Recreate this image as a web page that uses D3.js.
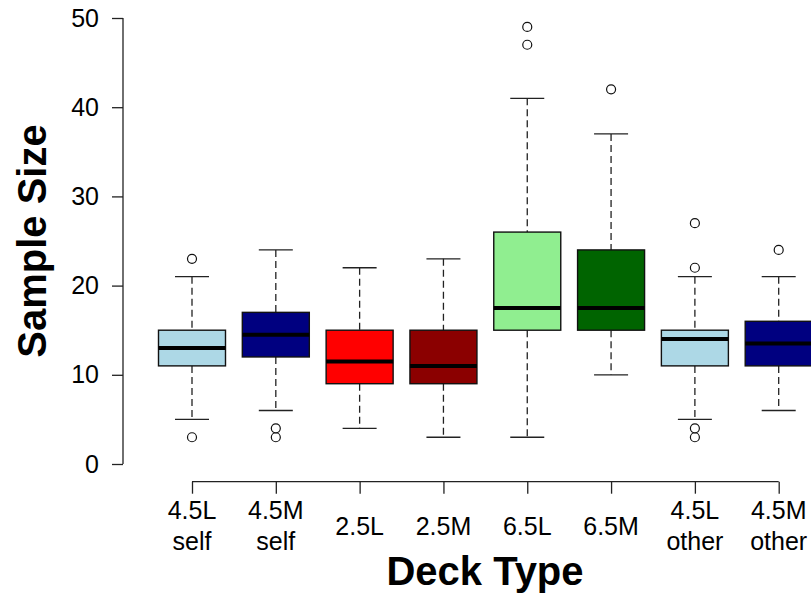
<!DOCTYPE html>
<html>
<head>
<meta charset="utf-8">
<script src="https://d3js.org/d3.v7.min.js"></script>
<style>
    body { margin: 0; background: #fff; }
    text { font-family: "Liberation Sans", Arial, Helvetica, sans-serif; }
</style>
</head>
<body>
<div id="chart-area"></div>
<script>
/*
*    boxplot of sample size by deck type
*/
var deckTypes = ["4.5L self", "4.5M self", "2.5L", "2.5M", "6.5L", "6.5M", "4.5L other", "4.5M other"];
var boxColors = ["#ADD8E6", "#000080", "#FF0000", "#8B0000", "#90EE90", "#006400", "#ADD8E6", "#000080"];
var lowerWhisker = [5, 6, 4, 3, 3, 10, 5, 6];
var lowerQuartile = [11, 12, 9, 9, 15, 15, 11, 11];
var medians = [13, 14.5, 11.5, 11, 17.5, 17.5, 14, 13.5];
var upperQuartile = [15, 17, 15, 15, 26, 24, 15, 16];
var upperWhisker = [21, 24, 22, 23, 41, 37, 21, 21];
var outliers = [[3, 23], [3, 4], [], [], [47, 49], [42], [3, 4, 22, 27], [24]];
var yTicks = [0, 10, 20, 30, 40, 50];

var width = 811, height = 594;

var svg = d3.select("#chart-area")
    .append("svg")
        .attr("width", width)
        .attr("height", height);

// Scales
var x = d3.scalePoint()
    .domain(deckTypes)
    .range([192, 778.7]);
var y = d3.scaleLinear()
    .domain([0, 50])
    .range([464, 18]);

var boxHalf = 33.5, capHalf = 17;

// Y Axis
var yAxisCall = d3.axisLeft(y)
    .tickValues(yTicks)
    .tickSize(11)
    .tickPadding(13);
var yAxis = svg.append("g")
    .attr("transform", "translate(123,0)")
    .call(yAxisCall);
yAxis.select(".domain").attr("d", "M0," + y(0) + "V" + y(50));
yAxis.selectAll("line, path").attr("stroke", "#222").attr("stroke-width", 1.3);
yAxis.selectAll("text")
    .attr("font-size", "25px")
    .attr("fill", "#000")
    .attr("font-family", "Liberation Sans, Arial, sans-serif");

// X Axis
var xAxisCall = d3.axisBottom(x)
    .tickSize(12)
    .tickFormat("");
var xAxis = svg.append("g")
    .attr("transform", "translate(0,481.7)")
    .call(xAxisCall);
xAxis.select(".domain").attr("d", "M" + x(deckTypes[0]) + ",0H" + x(deckTypes[deckTypes.length - 1]));
xAxis.selectAll("line, path").attr("stroke", "#222").attr("stroke-width", 1.3);

// Category labels (split on space into two lines)
deckTypes.forEach(function(d){
    var parts = d.split(" ");
    var lbl = svg.append("text")
        .attr("text-anchor", "middle")
        .attr("font-size", "25px")
        .attr("x", x(d));
    if (parts.length == 1) {
        lbl.attr("y", 535).text(parts[0]);
    } else {
        lbl.append("tspan").attr("x", x(d)).attr("y", 519).text(parts[0]);
        lbl.append("tspan").attr("x", x(d)).attr("y", 550).text(parts[1]);
    }
});

// Boxes
var boxes = svg.selectAll("g.box").data(deckTypes)
    .enter().append("g")
    .attr("class", "box");

// whiskers
boxes.append("line")
    .attr("x1", function(d){ return x(d); })
    .attr("x2", function(d){ return x(d); })
    .attr("y1", function(d, i){ return y(upperWhisker[i]); })
    .attr("y2", function(d, i){ return y(upperQuartile[i]); })
    .attr("stroke", "#222").attr("stroke-width", 1.3)
    .attr("stroke-dasharray", "7,4");
boxes.append("line")
    .attr("x1", function(d){ return x(d); })
    .attr("x2", function(d){ return x(d); })
    .attr("y1", function(d, i){ return y(lowerQuartile[i]); })
    .attr("y2", function(d, i){ return y(lowerWhisker[i]); })
    .attr("stroke", "#222").attr("stroke-width", 1.3)
    .attr("stroke-dasharray", "7,4");

// caps
[upperWhisker, lowerWhisker].forEach(function(arr){
    boxes.append("line")
        .attr("x1", function(d){ return x(d) - capHalf; })
        .attr("x2", function(d){ return x(d) + capHalf; })
        .attr("y1", function(d, i){ return y(arr[i]); })
        .attr("y2", function(d, i){ return y(arr[i]); })
        .attr("stroke", "#222").attr("stroke-width", 1.3);
});

// box body
boxes.append("rect")
    .attr("x", function(d){ return x(d) - boxHalf; })
    .attr("width", boxHalf * 2)
    .attr("y", function(d, i){ return y(upperQuartile[i]); })
    .attr("height", function(d, i){ return y(lowerQuartile[i]) - y(upperQuartile[i]); })
    .attr("fill", function(d, i){ return boxColors[i]; })
    .attr("stroke", "#111").attr("stroke-width", 1.4);

// medians
boxes.append("line")
    .attr("x1", function(d){ return x(d) - boxHalf; })
    .attr("x2", function(d){ return x(d) + boxHalf; })
    .attr("y1", function(d, i){ return y(medians[i]); })
    .attr("y2", function(d, i){ return y(medians[i]); })
    .attr("stroke", "#000").attr("stroke-width", 4);

// outliers
boxes.each(function(d, i){
    d3.select(this).selectAll("circle").data(outliers[i])
        .enter().append("circle")
        .attr("cx", x(d))
        .attr("cy", function(v){ return y(v); })
        .attr("r", 4.5)
        .attr("fill", "#fff")
        .attr("stroke", "#111")
        .attr("stroke-width", 1.2);
});

// Labels
svg.append("text")
    .attr("x", 485)
    .attr("y", 585)
    .attr("text-anchor", "middle")
    .attr("font-size", "40px")
    .attr("font-weight", "bold")
    .text("Deck Type");
svg.append("text")
    .attr("transform", "translate(46,241) rotate(-90)")
    .attr("text-anchor", "middle")
    .attr("font-size", "40px")
    .attr("font-weight", "bold")
    .text("Sample Size");
</script>
</body>
</html>
